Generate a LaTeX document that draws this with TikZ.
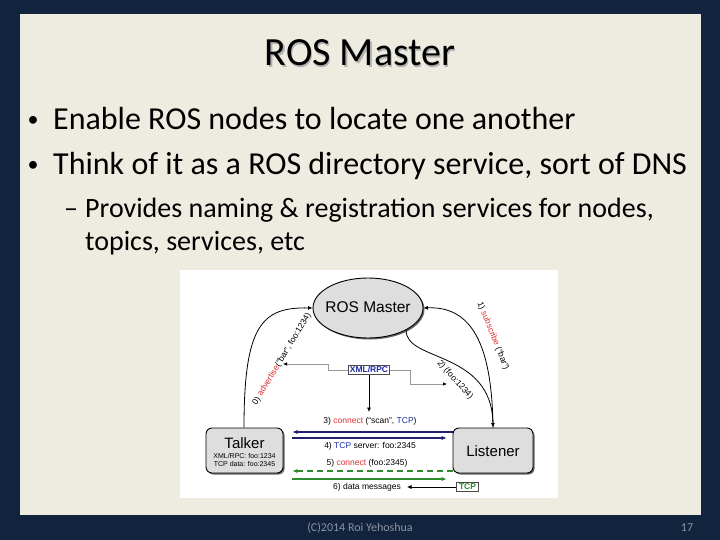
\documentclass[tikz,border=0pt]{standalone}
\usepackage{fontspec}
\setmainfont{Carlito}
\newfontfamily\arialf{Liberation Sans}
\usetikzlibrary{arrows.meta,shapes.geometric,shadows}
\definecolor{frame}{HTML}{12233D}
\definecolor{panel}{HTML}{EEECE1}
\definecolor{foot}{HTML}{8A93A3}
\definecolor{dred}{HTML}{DD3333}
\definecolor{dblue}{HTML}{1E2DA8}
\definecolor{dnavy}{HTML}{1F1F6E}
\definecolor{dgreen}{HTML}{2E8B2E}
\definecolor{boxfill}{HTML}{DEDEDE}
\begin{document}
\begin{tikzpicture}[x=1pt,y=-1pt,
  txt/.style={inner sep=0pt, anchor=base west},
  dlab/.style={inner sep=0pt, font=\arialf\fontsize{8.5}{10}\selectfont},
  nodebox/.style={draw, line width=0.9pt, rounded corners=6pt, fill=boxfill,
     drop shadow={shadow xshift=1.5pt, shadow yshift=-1.5pt, fill=black!60, opacity=1}},
  arr/.style={-{Latex[length=4.5pt,width=4pt]}},
  harr/.style={line width=1.3pt, -{Latex[length=5pt,width=4.5pt]}},
  grayarr/.style={draw=black!40, line width=0.6pt, -{Latex[length=4pt,width=3.5pt,color=black]}}
]
\useasboundingbox (0,0) rectangle (720,540);
\fill[frame] (0,0) rectangle (720,540);
\fill[panel] (20,14) rectangle (701,515);

% title
\node[inner sep=0pt, anchor=base, text=black!30] (titleshadow) at (361.3,67.3) {\fontsize{40}{48}\selectfont ROS Master};
\node[inner sep=0pt, anchor=base] (title) at (360,66) {\fontsize{40}{48}\selectfont ROS Master};

% bullets
\node[inner sep=0pt, font=\fontsize{22}{26}\selectfont] (dot1) at (33,121) {\textbullet};
\node[inner sep=0pt, font=\fontsize{22}{26}\selectfont] (dot2) at (33,166) {\textbullet};
\begin{scope}[font=\fontsize{32}{38}\selectfont]
\node[txt] (b1) at (53,130) {Enable ROS nodes to locate one another};
\node[txt] (b2) at (53,175) {Think of it as a ROS directory service, sort of DNS};
\end{scope}
\begin{scope}[font=\fontsize{28}{34}\selectfont]
\node[txt] (dash1) at (64,218) {–};
\node[txt] (s1) at (85,218) {Provides naming \& registration services for nodes,};
\node[txt] (s2) at (85,251) {topics, services, etc};
\end{scope}

% footer
\node[inner sep=0pt, text=foot, font=\fontsize{12}{14}\selectfont] (foot1) at (360,528) {(C)2014 Roi Yehoshua};
\node[inner sep=0pt, text=foot, font=\fontsize{12}{14}\selectfont] (foot2) at (687,528) {17};

% diagram background
\fill[white] (180,270) rectangle (558,498);

% nodes
\node[ellipse, draw, line width=0.9pt, fill=boxfill, minimum width=110pt, minimum height=60pt,
  drop shadow={shadow xshift=1.5pt, shadow yshift=-1.5pt, fill=black!60, opacity=1}] (master) at (368,308) {};
\node[inner sep=0pt, font=\arialf\fontsize{15.5}{17}\selectfont] (mastertxt) at (368,307) {ROS Master};

\node[nodebox, minimum width=77pt, minimum height=45pt] (talker) at (244.5,450.5) {};
\node[inner sep=0pt, font=\arialf\fontsize{15}{17}\selectfont] (talkertxt) at (244.5,443) {Talker};
\node[inner sep=0pt, font=\arialf\fontsize{7}{8}\selectfont] (talkerl1) at (244.5,456) {XML/RPC: foo:1234};
\node[inner sep=0pt, font=\arialf\fontsize{7}{8}\selectfont] (talkerl2) at (244.5,463.5) {TCP data: foo:2345};

\node[nodebox, minimum width=80pt, minimum height=45pt] (listener) at (493,450.5) {};
\node[inner sep=0pt, font=\arialf\fontsize{15}{17}\selectfont] (listenertxt) at (493,451) {Listener};

\node[draw=black!70, line width=0.6pt, fill=white, inner sep=1.6pt, font=\arialf\bfseries\fontsize{8.5}{10}\selectfont, text=dblue] (xml) at (369,370) {XML/RPC};
\node[draw=black!70, line width=0.6pt, fill=white, inner xsep=2.5pt, inner ysep=1.6pt, font=\arialf\bfseries\fontsize{8.5}{10}\selectfont, text=dgreen] (tcp) at (467.5,487) {TCP};

% coordinates
\coordinate (advtip) at (283,364);
\coordinate (regtip) at (447,384);
\coordinate (xmltip) at (369,412);
\coordinate (datatip) at (407,487);

% curves
\draw[arr, line width=0.8pt] ([xshift=-0.5pt]talker.north) .. controls (244,325) and (262,307) .. (master.west);
\draw[arr, line width=0.8pt] (listener.north) .. controls (492,345) and (472,306) .. (master.east);
\draw[arr, line width=0.8pt] (master.-30) .. controls (405,362) and (492,350) .. (listener.north);

% curve labels
\node[dlab, rotate=59] (advlab) at (282,359) {0) \textcolor{dred}{advertise}(“bar”, foo:1234)};
\node[dlab, rotate=-68] (sublab) at (493,336) {1) \textcolor{dred}{subscribe} (“bar”)};
\node[dlab, rotate=-48] (foolab) at (455,380) {2) (foo:1234)};

% xml/rpc connectors
\draw[grayarr] (xml.west) -- (328,370) -- (328,364) -- (advtip);
\draw[grayarr] (xml.east) -- (410,370) -- (410,384) -- (regtip);
\draw[arr, line width=0.7pt] (xml.south) -- (xmltip);

% horizontal arrows
\draw[harr, draw=dnavy] ([yshift=18.5pt]listener.west) -- ([xshift=9pt,yshift=18.5pt]talker.east);
\draw[harr, draw=dnavy] ([xshift=9pt,yshift=12.5pt]talker.east) -- ([xshift=-6pt,yshift=12.5pt]listener.west);
\draw[harr, draw=dgreen, dash pattern=on 6pt off 4pt] ([yshift=-20.5pt]listener.west) -- ([xshift=9pt,yshift=-20.5pt]talker.east);
\draw[harr, draw=dgreen] ([xshift=9pt,yshift=-28.5pt]talker.east) -- ([xshift=-6pt,yshift=-28.5pt]listener.west);
\draw[arr, line width=0.7pt] (tcp.west) -- (datatip);

% horizontal labels
\node[dlab] (lab3) at (370,421) {3) \textcolor{dred}{connect} (“scan”, \textcolor{dblue}{TCP})};
\node[dlab] (lab4) at (370,446) {4) \textcolor{dblue}{TCP} server: foo:2345};
\node[dlab] (lab5) at (367,463) {5) \textcolor{dred}{connect} (foo:2345)};
\node[dlab] (lab6) at (367,487) {6) data messages};
\end{tikzpicture}
\end{document}
